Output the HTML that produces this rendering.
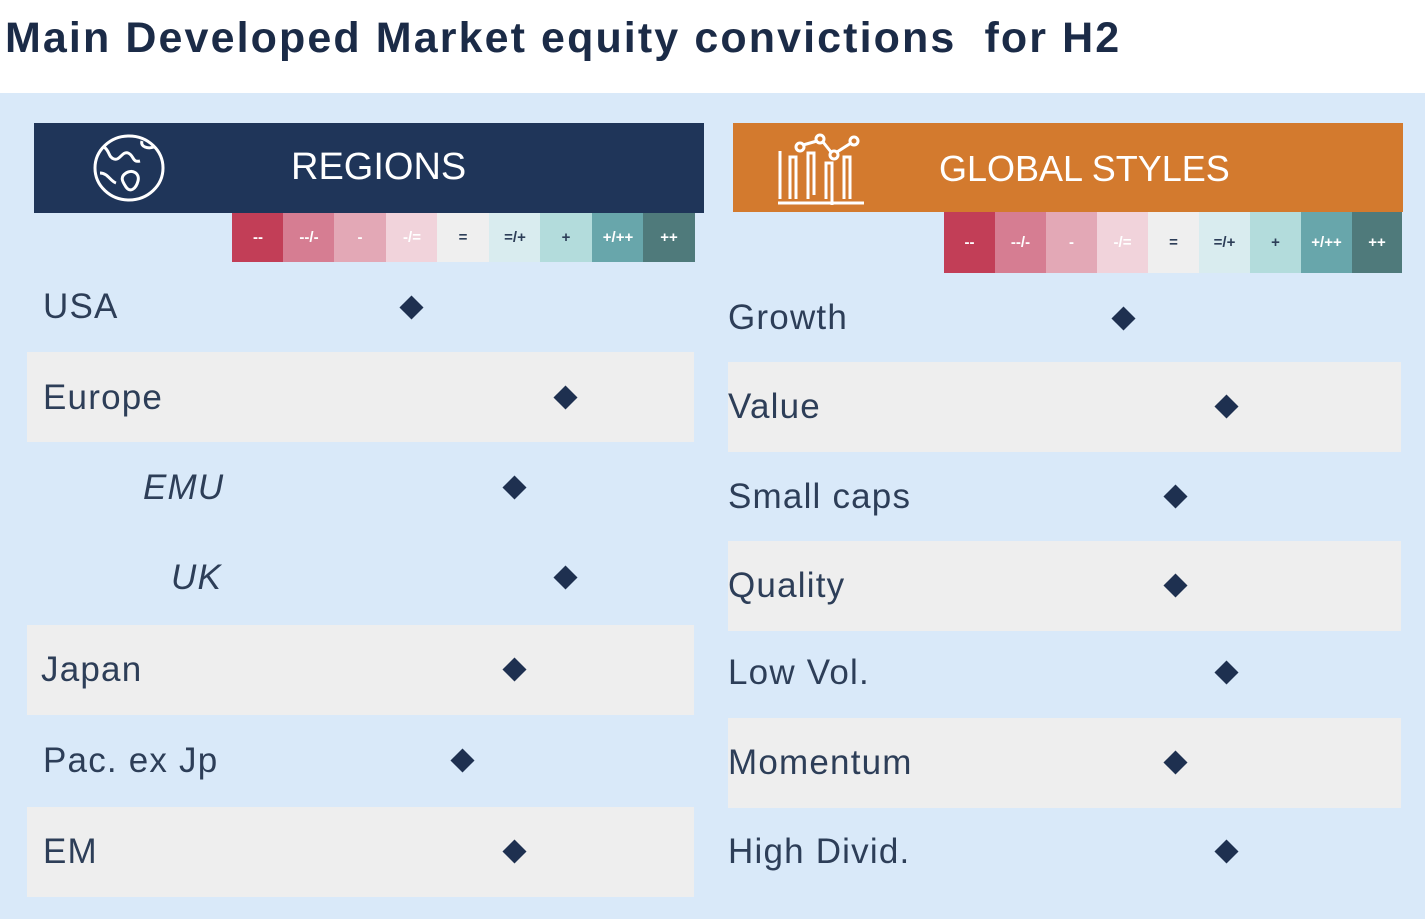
<!DOCTYPE html>
<html><head><style>
body{margin:0;width:1425px;height:919px;position:relative;background:#d9e9f9;font-family:"Liberation Sans",sans-serif;overflow:hidden}
.a{position:absolute}
.t{position:absolute;left:0;top:0;width:1425px;height:93px;background:#fff}
.t span{position:absolute;left:5px;top:14px;font-size:43px;font-weight:bold;color:#1b2b47;letter-spacing:2.1px}
.hd{position:absolute;color:#fff;font-size:38px}
.c{position:absolute;height:100%;top:0;color:#fff;font-weight:bold;font-size:15px;display:flex;align-items:center;justify-content:center}
.bg{position:absolute;background:#eeeeee}
.lb{position:absolute;font-size:35px;color:#2d3e58;line-height:40px;letter-spacing:1.2px}
.d{position:absolute;width:17px;height:17px;background:#1e3050;transform:rotate(45deg)}
</style></head><body>
<div class="t"><span>Main Developed Market equity convictions&nbsp; for H2</span></div>

<div class="a" style="left:34px;top:123px;width:670px;height:90px;background:#1f3559"></div>
<svg class="a" style="left:92px;top:133px" width="76" height="72" viewBox="0 0 76 72"><g fill="none" stroke="#fff" stroke-width="3"><ellipse cx="37" cy="35" rx="34" ry="32"/><path d="M12 14c6 4 4 10 10 12s8-8 14-6 4 10 12 8M8 40c8 0 10 8 16 10M34 40c6-4 14 0 12 8s-8 12-12 6-6-10 0-14M50 8c-2 6 6 8 12 6"/></g></svg>
<div class="hd" style="left:291px;top:146px">REGIONS</div>
<div class="a" style="left:232px;top:213px;width:463px;height:49px">
<div class="c" style="left:0;width:52px;background:#c23e57">--</div>
<div class="c" style="left:51px;width:52px;background:#d67d92">--/-</div>
<div class="c" style="left:102px;width:52px;background:#e3a8b6">-</div>
<div class="c" style="left:154px;width:52px;background:#f1d3db">-/=</div>
<div class="c" style="left:205px;width:52px;background:#efefef;color:#2d3e58">=</div>
<div class="c" style="left:257px;width:52px;background:#d9ecef;color:#2d3e58">=/+</div>
<div class="c" style="left:308px;width:52px;background:#b3dcdc;color:#2d3e58">+</div>
<div class="c" style="left:360px;width:52px;background:#68a6ab">+/++</div>
<div class="c" style="left:411px;width:52px;background:#4f7a7b">++</div>
</div>

<div class="a" style="left:733px;top:123px;width:670px;height:89px;background:#d37a2e"></div>
<svg class="a" style="left:774px;top:133px" width="92" height="72" viewBox="0 0 92 72"><g fill="none" stroke="#fff" stroke-width="3"><path d="M4 70h86M6 66V18M16 66V24h6v42M34 66V20h6v42M52 66V30h6v42M70 66V24h6v42"/><circle cx="26" cy="14" r="4"/><circle cx="46" cy="6" r="4"/><circle cx="60" cy="22" r="4"/><circle cx="80" cy="8" r="4"/><path d="M29 12l14-4M49 9l8 10M63 19l14-9"/></g></svg>
<div class="hd" style="left:939px;top:148px;font-size:36px">GLOBAL STYLES</div>
<div class="a" style="left:944px;top:212px;width:458px;height:61px">
<div class="c" style="left:0;width:51px;background:#c23e57">--</div>
<div class="c" style="left:51px;width:51px;background:#d67d92">--/-</div>
<div class="c" style="left:102px;width:51px;background:#e3a8b6">-</div>
<div class="c" style="left:153px;width:51px;background:#f1d3db">-/=</div>
<div class="c" style="left:204px;width:51px;background:#efefef;color:#2d3e58">=</div>
<div class="c" style="left:255px;width:51px;background:#d9ecef;color:#2d3e58">=/+</div>
<div class="c" style="left:306px;width:51px;background:#b3dcdc;color:#2d3e58">+</div>
<div class="c" style="left:357px;width:51px;background:#68a6ab">+/++</div>
<div class="c" style="left:408px;width:50px;background:#4f7a7b">++</div>
</div>

<div class="bg" style="left:27px;top:352px;width:667px;height:90px"></div>
<div class="bg" style="left:27px;top:625px;width:667px;height:90px"></div>
<div class="bg" style="left:27px;top:807px;width:667px;height:90px"></div>
<div class="bg" style="left:728px;top:362px;width:673px;height:90px"></div>
<div class="bg" style="left:728px;top:541px;width:673px;height:90px"></div>
<div class="bg" style="left:728px;top:718px;width:673px;height:90px"></div>

<div class="lb" style="left:43px;top:287px">USA</div>
<div class="lb" style="left:43px;top:378px">Europe</div>
<div class="lb" style="left:143px;top:468px;font-style:italic">EMU</div>
<div class="lb" style="left:171px;top:558px;font-style:italic">UK</div>
<div class="lb" style="left:41px;top:650px">Japan</div>
<div class="lb" style="left:43px;top:741px">Pac. ex Jp</div>
<div class="lb" style="left:43px;top:832px">EM</div>

<div class="lb" style="left:728px;top:298px">Growth</div>
<div class="lb" style="left:728px;top:387px">Value</div>
<div class="lb" style="left:728px;top:477px">Small caps</div>
<div class="lb" style="left:728px;top:566px">Quality</div>
<div class="lb" style="left:728px;top:653px">Low Vol.</div>
<div class="lb" style="left:728px;top:743px">Momentum</div>
<div class="lb" style="left:728px;top:832px">High Divid.</div>

<div class="d" style="left:403px;top:299px"></div>
<div class="d" style="left:557px;top:389px"></div>
<div class="d" style="left:506px;top:479px"></div>
<div class="d" style="left:557px;top:569px"></div>
<div class="d" style="left:506px;top:661px"></div>
<div class="d" style="left:454px;top:752px"></div>
<div class="d" style="left:506px;top:843px"></div>

<div class="d" style="left:1115px;top:310px"></div>
<div class="d" style="left:1218px;top:398px"></div>
<div class="d" style="left:1167px;top:488px"></div>
<div class="d" style="left:1167px;top:577px"></div>
<div class="d" style="left:1218px;top:664px"></div>
<div class="d" style="left:1167px;top:754px"></div>
<div class="d" style="left:1218px;top:843px"></div>
</body></html>
